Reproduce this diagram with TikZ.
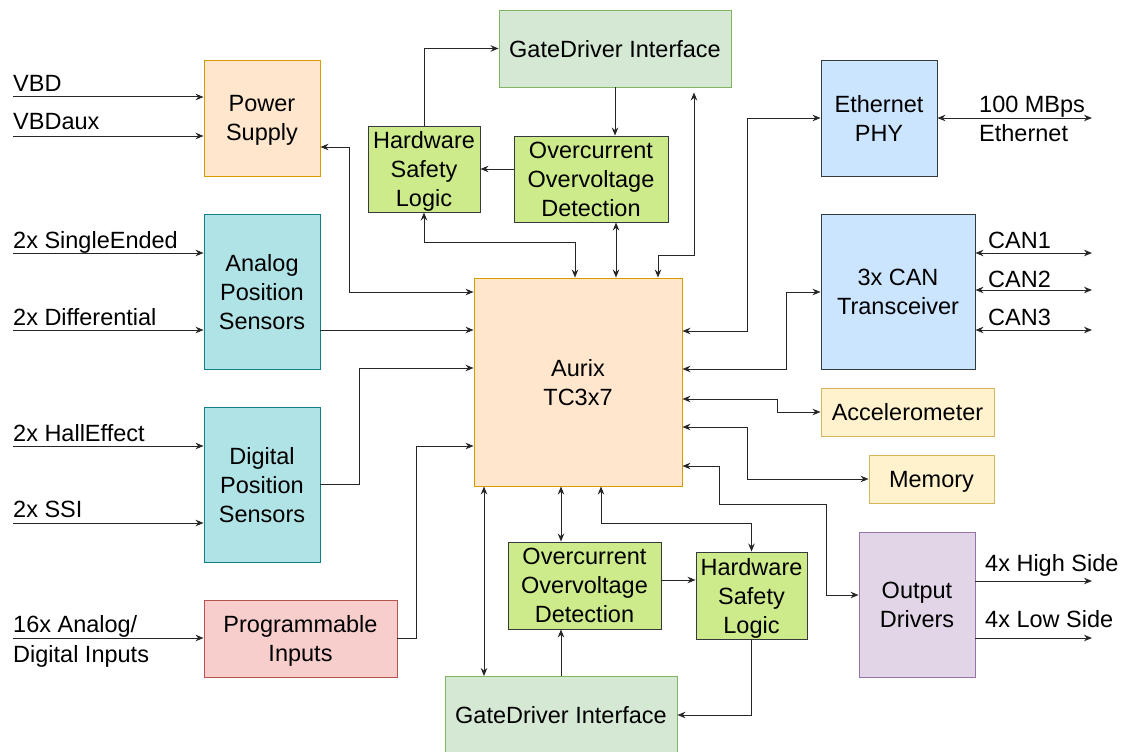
\documentclass[tikz,border=0pt]{standalone}
\usepackage{fontspec}
\setmainfont{Liberation Sans}
\usepackage{tikz}
\usetikzlibrary{arrows.meta}

\definecolor{orngfill}{HTML}{FFE6CC}\definecolor{orngline}{HTML}{D79B00}
\definecolor{cyanfill}{HTML}{B0E3E6}\definecolor{cyanline}{HTML}{0E8088}
\definecolor{redfill}{HTML}{F8CECC}\definecolor{redline}{HTML}{B85450}
\definecolor{gdfill}{HTML}{D5E8D4}\definecolor{gdline}{HTML}{82B366}
\definecolor{limefill}{HTML}{CDEB8B}\definecolor{darkline}{HTML}{36393D}
\definecolor{bluefill}{HTML}{CCE5FF}
\definecolor{yelfill}{HTML}{FFF2CC}\definecolor{yelline}{HTML}{D6B656}
\definecolor{purpfill}{HTML}{E1D5E7}\definecolor{purpline}{HTML}{9673A6}

\tikzset{
  txt/.style={font=\fontsize{23.5}{29}\selectfont},
  blk/.style={txt, draw, line width=0.9pt, align=center, inner sep=0pt, text depth=0pt},
  lbl/.style={txt, anchor=base west, inner sep=0pt},
  wire/.style={line width=1pt, black!85},
  orng/.style={fill=orngfill, draw=orngline},
  cyan/.style={fill=cyanfill, draw=cyanline},
  prog/.style={fill=redfill, draw=redline},
  gate/.style={fill=gdfill, draw=gdline},
  safe/.style={fill=limefill, draw=darkline},
  phy/.style={fill=bluefill, draw=darkline},
  periph/.style={fill=yelfill, draw=yelline},
  outp/.style={fill=purpfill, draw=purpline},
}

\begin{document}
\begin{tikzpicture}[x=1pt, y=-1pt, >={Stealth[length=8pt,width=6.5pt]}]
    \useasboundingbox (0,0) rectangle (1128,752);

    % left column
    \node[blk, orng, minimum width=116pt, minimum height=116pt] (pwr) at (262,118) {Power\\Supply};
    \node[blk, cyan, minimum width=116pt, minimum height=155pt] (aps) at (262,291.5) {Analog\\Position\\Sensors};
    \node[blk, cyan, minimum width=116pt, minimum height=155pt] (dps) at (262,484.5) {Digital\\Position\\Sensors};
    \node[blk, prog, minimum width=193pt, minimum height=77pt] (pin) at (300.5,638.5) {Programmable\\Inputs};

    % controller and safety path
    \node[blk, orng, minimum width=208pt, minimum height=208pt] (aur) at (578,382) {Aurix\\TC3x7};
    \node[blk, gate, minimum width=232pt, minimum height=77pt] (gdtop) at (615,48.5) {GateDriver Interface};
    \node[blk, safe, minimum width=112pt, minimum height=86pt] (hsltop) at (424,169) {Hardware\\Safety\\Logic};
    \node[blk, safe, minimum width=154pt, minimum height=86pt] (octop) at (591,179) {Overcurrent\\Overvoltage\\Detection};
    \node[blk, safe, minimum width=153pt, minimum height=87pt] (ocbot) at (584.5,585.5) {Overcurrent\\Overvoltage\\Detection};
    \node[blk, safe, minimum width=111pt, minimum height=87pt] (hslbot) at (751.5,595.5) {Hardware\\Safety\\Logic};
    \node[blk, gate, minimum width=232pt, minimum height=77pt] (gdbot) at (561,715) {GateDriver Interface};

    % right column
    \node[blk, phy, minimum width=116pt, minimum height=116pt] (eth) at (879,118) {Ethernet\\PHY};
    \node[blk, phy, minimum width=154pt, minimum height=155pt] (can) at (898,291.5) {3x CAN\\Transceiver};
    \node[blk, periph, minimum width=173pt, minimum height=48pt] (acc) at (907.5,412) {Accelerometer};
    \node[blk, periph, minimum width=125pt, minimum height=48pt] (mem) at (931.5,479) {Memory};
    \node[blk, outp, minimum width=116pt, minimum height=145pt] (outd) at (917,604.5) {Output\\Drivers};

    % free ends of the signal lines
    \coordinate (vbd)    at (13,97);
    \coordinate (vbdaux) at (13,136);
    \coordinate (single) at (13,253);
    \coordinate (diff)   at (13,330);
    \coordinate (hall)   at (13,446);
    \coordinate (ssi)    at (13,523);
    \coordinate (anadig) at (13,638);
    \coordinate (ethout) at (1092,118);
    \coordinate (canone) at (1092,253);
    \coordinate (cantwo) at (1092,290);
    \coordinate (canthr) at (1092,330);
    \coordinate (hiside) at (1092,581);
    \coordinate (loside) at (1092,638);

    % signal labels
    \node[lbl] (vbdl)    at (13,91.5) {VBD};
    \node[lbl] (vbdauxl) at (13,129) {VBDaux};
    \node[lbl] (singlel) at (13,248) {2x SingleEnded};
    \node[lbl] (diffl)   at (13,325) {2x Differential};
    \node[lbl] (halll)   at (13,441) {2x HallEffect};
    \node[lbl] (ssil)    at (13,517) {2x SSI};
    \node[lbl] (anal)    at (13,632) {16x Analog/};
    \node[lbl] (digl)    at (13,662) {Digital Inputs};
    \node[lbl] (mbpsl)   at (979,113) {100 MBps};
    \node[lbl] (etherl)  at (979,142) {Ethernet};
    \node[lbl] (canonel) at (988,248) {CAN1};
    \node[lbl] (cantwol) at (988,287) {CAN2};
    \node[lbl] (canthrl) at (988,325) {CAN3};
    \node[lbl] (hisidel) at (985,571) {4x High Side};
    \node[lbl] (losidel) at (985,627) {4x Low Side};

    % inputs on the left
    \draw [wire,->] (vbd) -- (vbd -| pwr.west);
    \draw [wire,->] (vbdaux) -- (vbdaux -| pwr.west);
    \draw [wire,->] (single) -- (single -| aps.west);
    \draw [wire,->] (diff) -- (diff -| aps.west);
    \draw [wire,->] (hall) -- (hall -| dps.west);
    \draw [wire,->] (ssi) -- (ssi -| dps.west);
    \draw [wire,->] (anadig) -- (anadig -| pin.west);

    % into the Aurix from the left
    \draw [wire,<->] ([yshift=-29pt]pwr.east) -| (349,292) -- (aur.west |- 0,292);
    \draw [wire,->] (aps.east |- 0,330) -- (aur.west |- 0,330);
    \draw [wire,->] (dps.east |- 0,484) -| (359,368) -- (aur.west |- 0,368);
    \draw [wire,->] (pin.east |- 0,638) -| (416,446) -- (aur.west |- 0,446);

    % upper safety path
    \draw [wire,->] (hsltop.north) |- (gdtop.west);
    \draw [wire,->] (gdtop.south) -- (gdtop.south |- octop.north);
    \draw [wire,->] (octop.west |- hsltop.east) -- (hsltop.east);
    \draw [wire,<->] (hsltop.south) |- (575,242) -- (aur.north -| 575,0);
    \draw [wire,<->] (octop.south -| 616,0) -- (aur.north -| 616,0);
    \draw [wire,<->] (aur.north -| 658,0) |- (694,255) -- ([yshift=-5pt]gdtop.south -| 694,0);

    % right side
    \draw [wire,<->] (aur.east |- 0,331) -| (747,118) -- (eth.west);
    \draw [wire,<->] (eth.east) -- (ethout);
    \draw [wire,<->] (aur.east |- 0,369) -| (786,292) -- (can.west |- 0,292);
    \draw [wire,<->] (canone -| can.east) -- (canone);
    \draw [wire,<->] (cantwo -| can.east) -- (cantwo);
    \draw [wire,<->] (canthr -| can.east) -- (canthr);
    \draw [wire,<->] (aur.east |- 0,399) -| (777,412) -- (acc.west);
    \draw [wire,<->] (aur.east |- 0,427) -| (747,479) -- (mem.west);
    \draw [wire,<->] (aur.east |- 0,466) -| (719,504) -| (826,595) -- (outd.west |- 0,595);
    \draw [wire,->] (hiside -| outd.east) -- (hiside);
    \draw [wire,->] (loside -| outd.east) -- (loside);

    % lower safety path
    \draw [wire,<->] (aur.south -| 484,0) -- (gdbot.north -| 484,0);
    \draw [wire,<->] (aur.south -| 561,0) -- (ocbot.north -| 561,0);
    \draw [wire,<->] (aur.south -| 601,0) |- (hslbot.north |- 0,523) -- (hslbot.north);
    \draw [wire,->] (gdbot.north -| 561,0) -- (ocbot.south -| 561,0);
    \draw [wire,->] (ocbot.east |- 0,580) -- (hslbot.west |- 0,580);
    \draw [wire,->] (hslbot.south) |- (gdbot.east);
\end{tikzpicture}
\end{document}
